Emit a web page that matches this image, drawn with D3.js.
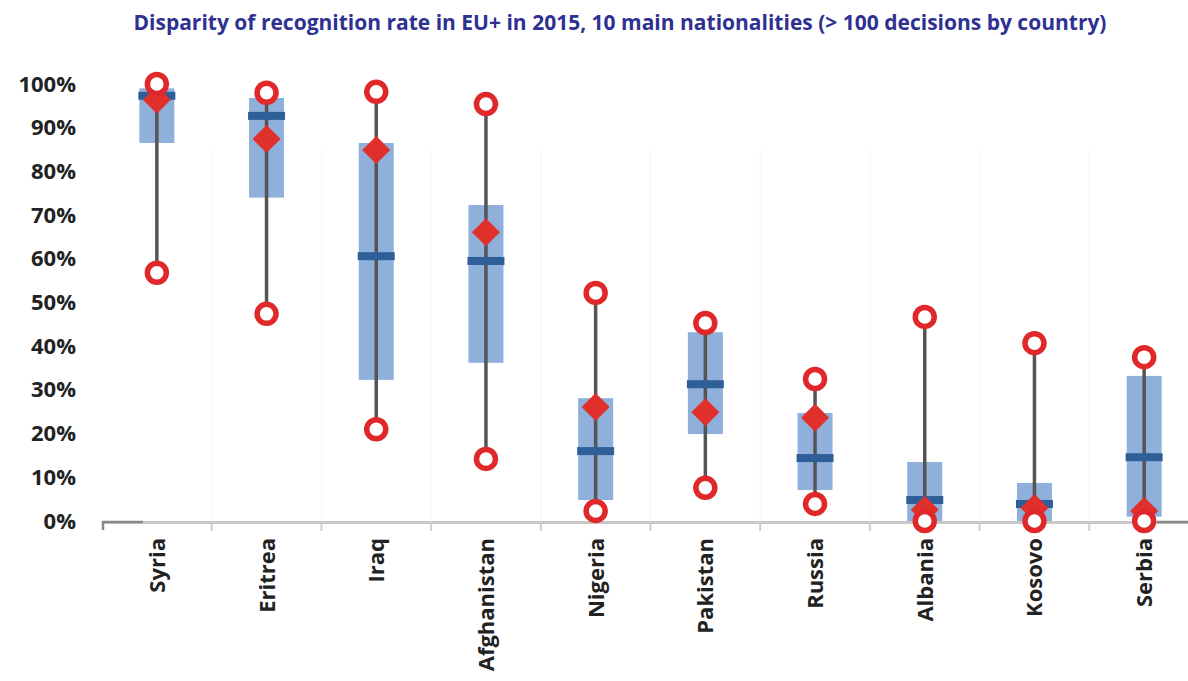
<!DOCTYPE html>
<html>
<head>
<meta charset="utf-8">
<script src="https://cdn.jsdelivr.net/npm/d3@7"></script>
<style>
  body { margin: 0; background: #fff; }
  text { font-family: "Open Sans", "Liberation Sans", sans-serif; font-weight: bold; }
</style>
</head>
<body>
<script>
// data (recognition rate, %)
const countries = ['Syria', 'Eritrea', 'Iraq', 'Afghanistan', 'Nigeria', 'Pakistan', 'Russia', 'Albania', 'Kosovo', 'Serbia'];
const maxRate    = [100, 98, 98.2, 95.4, 52.2, 45.3, 32.5, 46.7, 40.7, 37.5];
const minRate    = [56.8, 47.4, 21, 14.2, 2.3, 7.6, 3.9, 0, 0, 0];
const q3Rate     = [99, 96.8, 86.5, 72.3, 28.1, 43.2, 24.7, 13.5, 8.7, 33.2];
const q1Rate     = [86.5, 74, 32.3, 36.2, 4.8, 19.9, 7.1, 0, 0, 1];
const medianRate = [97.3, 92.7, 60.6, 59.5, 16, 31.3, 14.4, 4.8, 3.9, 14.6];
const meanRate   = [96.4, 87.4, 84.9, 66.1, 26.1, 24.9, 23.6, 2.6, 3, 2.3];
const yTicks = [0, 10, 20, 30, 40, 50, 60, 70, 80, 90, 100];

const width = 1188, height = 681;
const svg = d3.select('body').append('svg')
  .attr('width', width)
  .attr('height', height);

const x = d3.scaleBand()
  .domain(countries)
  .range([102, 1199]);

const y = d3.scaleLinear()
  .domain([0, 100])
  .range([521, 84]);

const rows = countries.map((c, i) => ({
  name: c, max: maxRate[i], min: minRate[i], q3: q3Rate[i], q1: q1Rate[i],
  median: medianRate[i], mean: meanRate[i]
}));
const cx = d => x(d.name) + x.bandwidth() / 2;

// title
svg.append('text')
  .attr('x', 620)
  .attr('y', 30)
  .attr('text-anchor', 'middle')
  .attr('fill', '#2e3192')
  .style('font-size', '21px')
  .text('Disparity of recognition rate in EU+ in 2015, 10 main nationalities (> 100 decisions by country)');

// faint separators
svg.append('g').selectAll('line')
  .data(countries.slice(1))
  .join('line')
  .attr('x1', d => x(d)).attr('x2', d => x(d))
  .attr('y1', y(85)).attr('y2', y(0))
  .attr('stroke', '#f6f6f6')
  .attr('stroke-width', 1);

// x axis
const xAxis = d3.axisBottom(x).tickSize(0).tickFormat('');
const xg = svg.append('g')
  .attr('transform', `translate(0,${y(0) + 1})`)
  .call(xAxis);
xg.select('.domain').attr('stroke', '#c8c8c8').attr('stroke-width', 3);
svg.append('path')
  .attr('d', `M103,${y(0) + 9}V${y(0) + 1}H143`)
  .attr('fill', 'none').attr('stroke', '#888').attr('stroke-width', 2.5);
svg.append('path')
  .attr('d', `M1157,${y(0) + 1}H1188`)
  .attr('fill', 'none').attr('stroke', '#888').attr('stroke-width', 2.5);
svg.append('g').selectAll('line')
  .data(countries.slice(1))
  .join('line')
  .attr('x1', d => x(d)).attr('x2', d => x(d))
  .attr('y1', y(0) + 1).attr('y2', y(0) + 10)
  .attr('stroke', '#cfcfcf').attr('stroke-width', 2);

svg.append('g').selectAll('text')
  .data(countries)
  .join('text')
  .attr('transform', d => `translate(${x(d) + x.bandwidth() / 2 + 8},538) rotate(-90)`)
  .attr('text-anchor', 'end')
  .attr('fill', '#222')
  .style('font-size', '22px')
  .text(d => d);

// y axis labels
const yAxis = d3.axisLeft(y)
  .tickValues(yTicks)
  .tickSize(0)
  .tickFormat(d => d + '%');
const yg = svg.append('g')
  .attr('transform', 'translate(76,0)')
  .call(yAxis);
yg.select('.domain').remove();
yg.selectAll('text')
  .attr('fill', '#222')
  .attr('x', 0)
  .style('font-size', '22px')
  .style('font-family', '"Open Sans", sans-serif')
  .style('font-weight', 'bold');

const g = svg.append('g');

// boxes
g.selectAll('rect.box')
  .data(rows)
  .join('rect')
  .attr('class', 'box')
  .attr('x', d => cx(d) - 17.5)
  .attr('width', 35)
  .attr('y', d => y(d.q3))
  .attr('height', d => Math.max(y(d.q1) - y(d.q3), 0))
  .attr('fill', '#8eb0da');

// whiskers
g.selectAll('line.whisker')
  .data(rows)
  .join('line')
  .attr('class', 'whisker')
  .attr('x1', cx).attr('x2', cx)
  .attr('y1', d => y(d.max)).attr('y2', d => y(d.min))
  .attr('stroke', '#555')
  .attr('stroke-width', 3.5);

// medians
g.selectAll('rect.median')
  .data(rows)
  .join('rect')
  .attr('class', 'median')
  .attr('x', d => cx(d) - 18.5)
  .attr('width', 37)
  .attr('y', d => y(d.median) - 4)
  .attr('height', 8)
  .attr('fill', '#2f5f98');

// means (diamonds)
g.selectAll('path.mean')
  .data(rows)
  .join('path')
  .attr('class', 'mean')
  .attr('d', d => {
    const px = cx(d), py = y(d.mean), r = 14;
    return `M${px},${py - r}L${px + r},${py}L${px},${py + r}L${px - r},${py}Z`;
  })
  .attr('fill', '#e0302c');

// min and max circles
const ends = rows.flatMap(d => [{ d, v: d.max }, { d, v: d.min }]);
g.selectAll('circle.end')
  .data(ends)
  .join('circle')
  .attr('class', 'end')
  .attr('cx', e => cx(e.d))
  .attr('cy', e => y(e.v))
  .attr('r', 9.5)
  .attr('fill', '#fff')
  .attr('stroke', '#e0282a')
  .attr('stroke-width', 5.5);
</script>
</body>
</html>
